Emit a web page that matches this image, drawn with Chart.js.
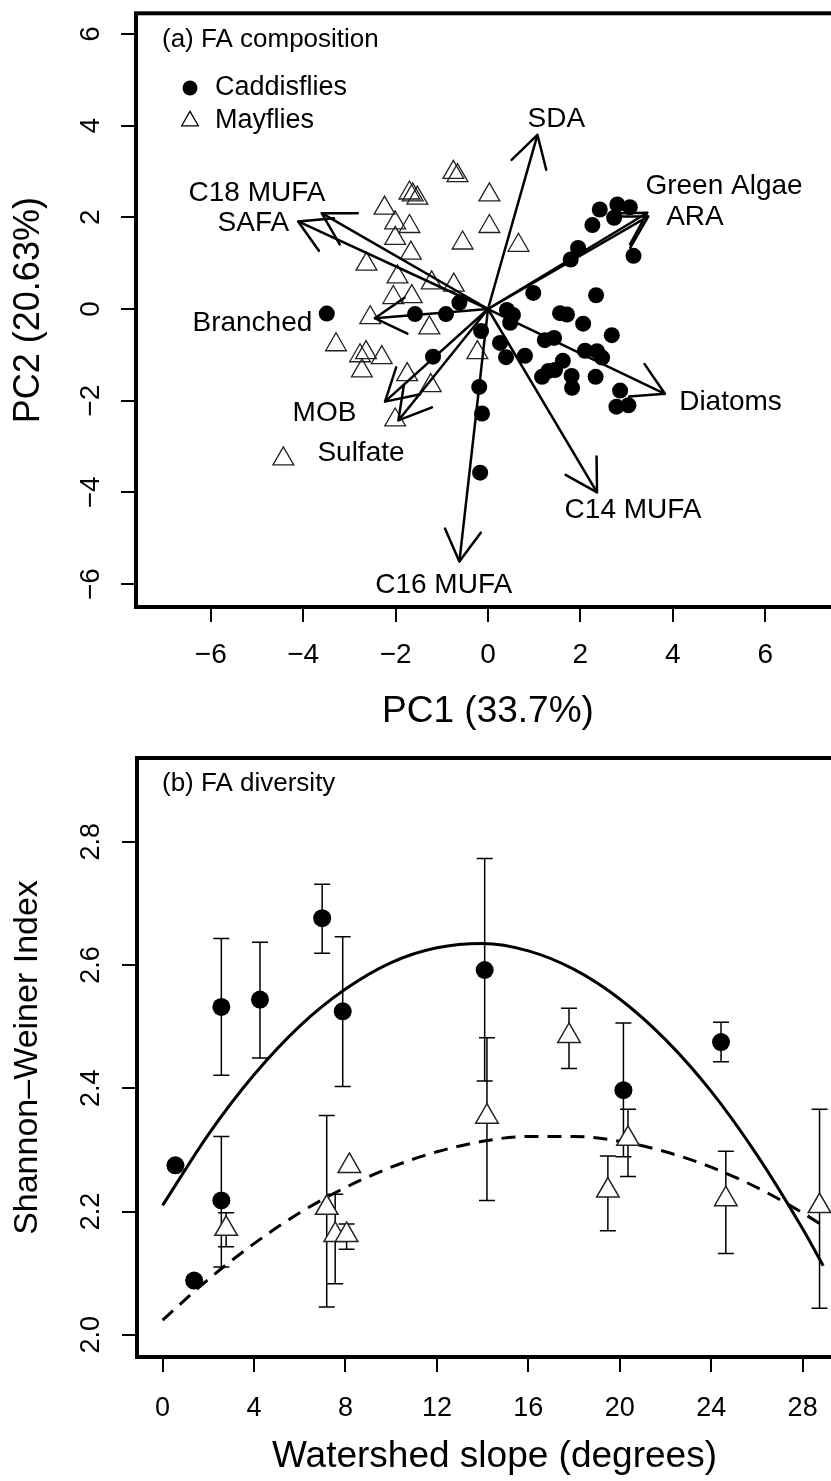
<!DOCTYPE html>
<html>
<head>
<meta charset="utf-8">
<script src="https://cdn.jsdelivr.net/npm/chart.js@4.4.1/dist/chart.umd.min.js"></script>
<style>
  html, body { margin: 0; padding: 0; background: #fff; overflow: hidden; width: 831px; height: 1481px; }
  .panel { position: absolute; left: 0; width: 880px; }
  #wrapA { top: 0; height: 740px; }
  #wrapB { top: 740px; height: 741px; }
</style>
</head>
<body>
<div class="panel" id="wrapA"><canvas id="pcaChart"></canvas></div>
<div class="panel" id="wrapB"><canvas id="diversityChart"></canvas></div>
<script>
// ---- panel (a): PCA scores ----
const caddisPC1 = [-3.49, -1.58, -0.91, -0.62, -0.15, -1.19, -0.19, -0.13, -0.17, 0.41, 0.54, 0.48, 0.26, 0.39, 0.80,
  0.98, 1.56, 1.71, 2.06, 1.23, 1.43, 2.10, 2.36, 2.47, 2.68, 2.34, 1.62, 1.17, 1.31, 1.81, 1.82, 2.33, 2.86, 2.78,
  3.04, 1.95, 1.79, 2.26, 2.42, 2.80, 3.07, 2.73, 3.15, 1.45];
const caddisPC2 = [-0.10, -0.11, -0.11, 0.14, -0.48, -1.04, -1.70, -2.28, -3.57, -0.02, -0.13, -0.30, -0.74, -1.05, -1.02,
  0.35, -0.09, -0.12, -0.32, -0.68, -0.63, -0.91, -0.92, -1.06, -0.57, 0.30, -1.13, -1.48, -1.35, -1.46, -1.72, -1.48,
  -1.78, -2.13, -2.10, 1.33, 1.08, 1.83, 2.17, 2.28, 2.22, 1.99, 1.16, -1.33];
const mayPC1 = [-0.75, -0.66, 0.03, 0.03, -0.55, 0.66, -1.70, -1.53, -1.63, -2.24, -2.01, -1.70, -2.01, -1.67, -2.63,
  -1.96, -1.22, -0.74, -2.05, -1.65, -2.55, -1.27, -3.29, -2.77, -2.64, -2.30, -2.73, -1.75, -1.24, -2.01, -0.23, -4.43];
const mayPC2 = [2.98, 2.91, 2.49, 1.80, 1.44, 1.39, 2.53, 2.42, 2.49, 2.20, 1.88, 1.80, 1.54, 1.22, 0.98,
  0.70, 0.57, 0.52, 0.25, 0.27, -0.19, -0.41, -0.78, -1.02, -0.95, -1.06, -1.35, -1.43, -1.67, -2.42, -0.95, -3.27];

// loadings (arrow tips) and where their names sit
const loadNames = ['SDA', 'Green Algae', 'ARA', 'Diatoms', 'C14 MUFA', 'C16 MUFA', 'Sulfate', 'MOB', 'Branched', 'C18 MUFA', 'SAFA'];
const loadPC1 = [1.07, 3.45, 3.47, 3.83, 2.36, -0.62, -1.94, -2.23, -2.45, -3.60, -4.11];
const loadPC2 = [3.80, 2.10, 2.02, -1.85, -4.00, -5.51, -2.43, -2.02, -0.20, 2.09, 1.91];
const labelPC1 = [1.48, 5.11, 4.48, 5.25, 3.14, -0.96, -2.75, -3.54, -5.10, -5.00, -5.08];
const labelPC2 = [4.13, 2.67, 2.00, -2.04, -4.39, -6.02, -3.15, -2.27, -0.32, 2.52, 1.87];
const pcaTicks = [-6, -4, -2, 0, 2, 4, 6];

// ---- panel (b): FA diversity vs watershed slope ----
const caddisSlope = [0.56, 1.38, 2.57, 2.57, 4.26, 6.98, 7.88, 14.09, 20.16, 24.43];
const caddisH = [2.275, 2.088, 2.532, 2.218, 2.544, 2.676, 2.525, 2.592, 2.397, 2.475];
const caddisLo = [2.275, 2.082, 2.421, 2.110, 2.449, 2.619, 2.403, 2.412, 2.289, 2.443];
const caddisHi = [2.275, 2.094, 2.643, 2.322, 2.637, 2.731, 2.646, 2.773, 2.506, 2.507];
const maySlope = [2.78, 7.18, 7.55, 8.05, 8.17, 14.19, 17.78, 19.48, 20.36, 24.64, 28.74];
const mayH = [2.172, 2.206, 2.162, 2.162, 2.274, 2.354, 2.485, 2.234, 2.318, 2.220, 2.209];
const mayLo = [2.143, 2.045, 2.083, 2.139, 2.274, 2.218, 2.432, 2.169, 2.257, 2.132, 2.043];
const mayHi = [2.198, 2.356, 2.228, 2.180, 2.274, 2.482, 2.530, 2.290, 2.366, 2.298, 2.366];

// fitted curves
const caddisFitX = [0, 2, 4, 6, 8, 10, 12, 14, 16, 18, 20, 22, 24, 26, 28, 28.9];
const caddisFitY = [2.210, 2.325, 2.422, 2.501, 2.561, 2.604, 2.628, 2.635, 2.623, 2.593, 2.545, 2.479, 2.395, 2.292, 2.172, 2.112];
const mayFitX = [0, 2, 4, 6, 8, 10, 12, 14, 16, 18, 20, 22, 24, 26, 28, 28.8];
const mayFitY = [2.024, 2.090, 2.148, 2.198, 2.239, 2.272, 2.297, 2.314, 2.322, 2.322, 2.314, 2.297, 2.272, 2.239, 2.198, 2.179];
const slopeTicks = [0, 4, 8, 12, 16, 20, 24, 28];
const shannonTicks = [2.0, 2.2, 2.4, 2.6, 2.8];

const FONT = '"Liberation Sans", Arial, Helvetica, sans-serif';
Chart.defaults.font.family = FONT;
Chart.defaults.color = '#000';

const toPoints = (xs, ys) => xs.map((x, i) => ({ x: x, y: ys[i] }));
const minus = v => String(v).replace('-', '\u2212');

// R-style closed box round the plot region
const boxPlugin = {
  id: 'box',
  afterDraw(chart) {
    const a = chart.chartArea;
    const ctx = chart.ctx;
    ctx.save();
    ctx.strokeStyle = '#000';
    ctx.lineWidth = 4;
    ctx.strokeRect(a.left, a.top, a.right - a.left, a.bottom - a.top);
    ctx.restore();
  }
};

// panel tag and hand-made legend
const notesPlugin = {
  id: 'notes',
  afterDatasetsDraw(chart, args, opts) {
    const ctx = chart.ctx;
    ctx.save();
    ctx.fillStyle = '#000';
    ctx.textBaseline = 'middle';
    ctx.textAlign = 'left';
    ctx.font = opts.tagSize + 'px ' + FONT;
    ctx.fillText(opts.tag, opts.tagX, opts.tagY);
    (opts.items || []).forEach(it => {
      ctx.font = opts.itemSize + 'px ' + FONT;
      ctx.fillText(it.text, it.x + 25, it.y);
      ctx.beginPath();
      if (it.style === 'circle') {
        ctx.arc(it.x, it.y, 7.5, 0, Math.PI * 2);
        ctx.fill();
      } else {
        const r = 9.6;
        ctx.moveTo(it.x, it.y - r);
        ctx.lineTo(it.x + r * 0.866, it.y + r / 2);
        ctx.lineTo(it.x - r * 0.866, it.y + r / 2);
        ctx.closePath();
        ctx.lineWidth = 1.3;
        ctx.stroke();
      }
    });
    ctx.restore();
  }
};

// arrow heads and variable names for the loadings
const arrowPlugin = {
  id: 'arrowHeads',
  afterDatasetsDraw(chart) {
    const xs = chart.scales.x, ys = chart.scales.y, ctx = chart.ctx;
    const ox = xs.getPixelForValue(0), oy = ys.getPixelForValue(0);
    ctx.save();
    ctx.strokeStyle = '#000';
    ctx.lineWidth = 2.5;
    ctx.lineCap = 'round';
    ctx.fillStyle = '#000';
    ctx.font = '28px ' + FONT;
    ctx.textAlign = 'center';
    ctx.textBaseline = 'middle';
    loadPC1.forEach((v, i) => {
      const tx = xs.getPixelForValue(v), ty = ys.getPixelForValue(loadPC2[i]);
      const ang = Math.atan2(oy - ty, ox - tx);
      ctx.beginPath();
      [-1, 1].forEach(s => {
        ctx.moveTo(tx, ty);
        ctx.lineTo(tx + 36 * Math.cos(ang + s * Math.PI / 6), ty + 36 * Math.sin(ang + s * Math.PI / 6));
      });
      ctx.stroke();
      ctx.fillText(loadNames[i], xs.getPixelForValue(labelPC1[i]), ys.getPixelForValue(labelPC2[i]));
    });
    ctx.restore();
  }
};

// vertical error bars with caps
const errorBarPlugin = {
  id: 'errorBars',
  beforeDatasetsDraw(chart) {
    const xs = chart.scales.x, ys = chart.scales.y, ctx = chart.ctx;
    ctx.save();
    ctx.strokeStyle = '#000';
    ctx.lineWidth = 1.5;
    const bars = (sx, lo, hi) => sx.forEach((v, i) => {
      if (hi[i] - lo[i] <= 0) return;
      const x = xs.getPixelForValue(v);
      const y1 = ys.getPixelForValue(lo[i]), y2 = ys.getPixelForValue(hi[i]);
      ctx.beginPath();
      ctx.moveTo(x, y1); ctx.lineTo(x, y2);
      ctx.moveTo(x - 8, y1); ctx.lineTo(x + 8, y1);
      ctx.moveTo(x - 8, y2); ctx.lineTo(x + 8, y2);
      ctx.stroke();
    });
    bars(caddisSlope, caddisLo, caddisHi);
    bars(maySlope, mayLo, mayHi);
    ctx.restore();
  }
};

const tickGrid = { drawOnChartArea: false, drawTicks: true, tickLength: 15, color: '#000', lineWidth: 2 };

function axes(o) {
  return {
    x: {
      type: 'linear', min: o.xmin, max: o.xmax,
      afterBuildTicks: s => { s.ticks = o.xticks.map(v => ({ value: v })); },
      afterFit: s => { s.height = o.xh; s.paddingLeft = 0; s.paddingRight = 0; },
      grid: tickGrid,
      border: { display: false },
      ticks: { font: { size: o.tickSize }, padding: o.xpad, autoSkip: false, maxRotation: 0, callback: o.xfmt },
      title: { display: true, text: o.xtitle, font: { size: 37 }, padding: { top: 0, bottom: o.xtpad } }
    },
    y: {
      type: 'linear', min: o.ymin, max: o.ymax,
      afterBuildTicks: s => { s.ticks = o.yticks.map(v => ({ value: v })); },
      afterFit: s => { s.width = o.yw; s.paddingTop = 0; s.paddingBottom = 0; },
      grid: tickGrid,
      border: { display: false },
      ticks: { font: { size: o.tickSize }, minRotation: 90, maxRotation: 90, crossAlign: 'center', padding: o.ypad, autoSkip: false, callback: o.yfmt },
      title: { display: true, text: o.ytitle, font: { size: o.ytSize }, padding: { top: 7, bottom: 0 } }
    }
  };
}

document.addEventListener('DOMContentLoaded', function () {
  new Chart(document.getElementById('pcaChart').getContext('2d'), {
    type: 'scatter',
    data: {
      datasets: [
        {
          label: 'Caddisflies',
          data: toPoints(caddisPC1, caddisPC2),
          pointStyle: 'circle', pointRadius: 8, backgroundColor: '#000', borderWidth: 0, order: 2
        },
        {
          label: 'Mayflies',
          data: toPoints(mayPC1, mayPC2),
          pointStyle: 'triangle', pointRadius: 12, backgroundColor: 'rgba(0,0,0,0)', borderColor: '#222', borderWidth: 1.3, order: 1
        }
      ].concat(loadPC1.map((v, i) => ({
        type: 'line',
        label: loadNames[i],
        data: [{ x: 0, y: 0 }, { x: v, y: loadPC2[i] }],
        borderColor: '#000', borderWidth: 2.5, pointRadius: 0, order: 0
      })))
    },
    options: {
      responsive: true,
      maintainAspectRatio: false,
      animation: false,
      events: [],
      layout: { padding: { top: 12, right: 40, left: 0, bottom: 0 } },
      plugins: {
        legend: { display: false },
        tooltip: { enabled: false },
        notes: {
          tag: '(a) FA composition', tagX: 162, tagY: 40, tagSize: 26, itemSize: 27,
          items: [
            { text: 'Caddisflies', style: 'circle', x: 190, y: 88 },
            { text: 'Mayflies', style: 'triangle', x: 190, y: 121 }
          ]
        }
      },
      scales: axes({
        xmin: -7.62, xmax: 7.62, ymin: -6.5, ymax: 6.45,
        xticks: pcaTicks, yticks: pcaTicks,
        xh: 133, yw: 136, tickSize: 28, xpad: 16, ypad: 14, xtpad: 6,
        xtitle: 'PC1 (33.7%)', ytitle: 'PC2 (20.63%)', ytSize: 36,
        xfmt: v => minus(v), yfmt: v => minus(v)
      })
    },
    plugins: [boxPlugin, notesPlugin, arrowPlugin]
  });

  new Chart(document.getElementById('diversityChart').getContext('2d'), {
    type: 'scatter',
    data: {
      datasets: [
        {
          label: 'Caddisflies',
          data: toPoints(caddisSlope, caddisH),
          pointStyle: 'circle', pointRadius: 9, backgroundColor: '#000', borderWidth: 0, order: 1
        },
        {
          label: 'Mayflies',
          data: toPoints(maySlope, mayH),
          pointStyle: 'triangle', pointRadius: 13, backgroundColor: '#fff', borderColor: '#222', borderWidth: 1.5, order: 0
        },
        {
          type: 'line', label: 'Caddisfly fit',
          data: toPoints(caddisFitX, caddisFitY),
          borderColor: '#000', borderWidth: 3, pointRadius: 0, cubicInterpolationMode: 'monotone', order: 3
        },
        {
          type: 'line', label: 'Mayfly fit',
          data: toPoints(mayFitX, mayFitY),
          borderColor: '#000', borderWidth: 3, borderDash: [14, 9], pointRadius: 0, cubicInterpolationMode: 'monotone', order: 2
        }
      ]
    },
    options: {
      responsive: true,
      maintainAspectRatio: false,
      animation: false,
      events: [],
      layout: { padding: { top: 18, right: 28, left: 0, bottom: 0 } },
      plugins: {
        legend: { display: false },
        tooltip: { enabled: false },
        notes: { tag: '(b) FA diversity', tagX: 162, tagY: 44, tagSize: 26, itemSize: 27, items: [] }
      },
      scales: axes({
        xmin: -1.12, xmax: 30.16, ymin: 1.964, ymax: 2.936,
        xticks: slopeTicks, yticks: shannonTicks,
        xh: 124, yw: 137, tickSize: 27, xpad: 20, ypad: 12, xtpad: 2,
        xtitle: 'Watershed slope (degrees)', ytitle: 'Shannon\u2013Weiner Index', ytSize: 34,
        xfmt: v => String(v), yfmt: v => Number(v).toFixed(1)
      })
    },
    plugins: [boxPlugin, notesPlugin, errorBarPlugin]
  });
});
</script>
</body>
</html>
